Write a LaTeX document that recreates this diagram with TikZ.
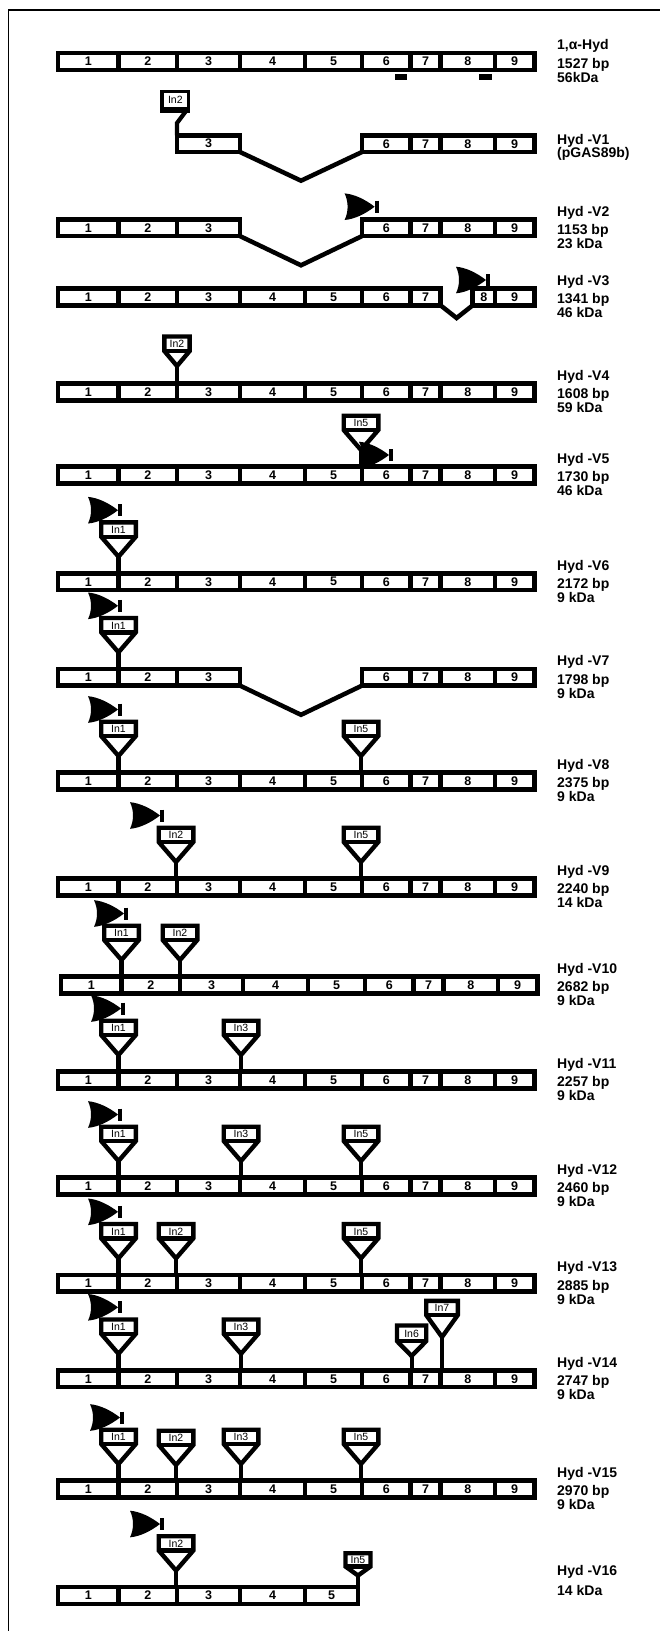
\documentclass[tikz,border=0pt]{standalone}
\usepackage{fontspec}
\setmainfont{Liberation Sans}
\usetikzlibrary{calc}

\definecolor{ink}{HTML}{000000}

% exon cells: left/right/number (x in px of the reference)
\def\exall{58.2/118.5/1, 118.5/177/2, 177/240/3, 240/305/4, 305/362/5, 362/410.5/6, 410.5/440.5/7, 440.5/495/8, 495/534.4/9}
\def\exhead{58.2/118.5/1, 118.5/177/2, 177/240/3}
\def\extail{362/410.5/6, 410.5/440.5/7, 440.5/495/8, 495/534.4/9}
\def\exthree{177/240/3}
\def\exseven{58.2/118.5/1, 118.5/177/2, 177/240/3, 240/305/4, 305/362/5, 362/410.5/6, 410.5/440.5/7}
\def\exlast{472.7/495/8, 495/534.4/9}
\def\exfive{58.2/118.5/1, 118.5/177/2, 177/240/3, 240/305/4, 305/358/5}

\tikzset{
  exon/.style={draw=ink, line width=4.5pt, fill=white},
  splice/.style={draw=ink, line width=4.5pt},
  stem/.style={draw=ink, line width=4.2pt},
  insline/.style={draw=ink, line width=4.4pt, fill=white},
  sepline/.style={draw=ink, line width=4.4pt},
  frame/.style={draw=ink, line width=1.5pt},
  exnum/.style={font=\fontsize{12.5}{13}\selectfont\bfseries, text=ink, inner sep=0pt},
  inlbl/.style={font=\fontsize{10.5}{11}\selectfont, text=ink, inner sep=0pt},
  lbl/.style={font=\fontsize{14}{14}\selectfont\bfseries, text=ink, inner sep=0pt,
              align=left, anchor=north west},
}

% one run of exons on a bar
\newcommand{\exons}[3]{%
  \foreach \xa/\xb/\num in #3 {
    \draw[exon] (\xa,#2-8.3) rectangle (\xb,#2+8.3);
    \node[exnum] (#1-\num) at ({(\xa+\xb)/2},#2) {\num};
  }}

% inserted intron: name, x, half width, top, separator, apex, bar top, label
\newcommand{\inspent}[8]{%
  \draw[insline] (#2-#3,#4) -- (#2+#3,#4) -- (#2+#3,#5) -- (#2,#6) -- (#2-#3,#5) -- cycle;
  \draw[sepline] (#2-#3,#5) -- (#2+#3,#5);
  \draw[stem] (#2,#6) -- (#2,#7);
  \node[inlbl] (#1) at (#2,{(#4+#5)/2+0.3}) {#8};}
\newcommand{\insbox}[4]{\inspent{#1}{#2}{17.3}{#3-59.3}{#3-45}{#3-25}{#3-8.3}{#4}}

% start site: name, tip x, tip y
\newcommand{\promoter}[3]{%
  \coordinate (#1) at (#2,#3);
  \fill[ink] (#2,#3) .. controls (#2-9,#3-7) and (#2-20,#3-12.5) .. (#2-30,#3-13.3)
    .. controls (#2-26,#3-5) and (#2-26,#3+5) .. (#2-30,#3+13.3)
    .. controls (#2-20,#3+12.5) and (#2-9,#3+7) .. cycle;
  \draw[stem] (#2+2,#3-6) -- (#2+2,#3+6);}

\newcommand{\varlbl}[5]{\node[lbl] (#1) at (557,#2-22) {#3\\[4.5pt]#4\\#5};}

\begin{document}
\begin{tikzpicture}[x=1pt, y=-1pt]
  \useasboundingbox (0,0) rectangle (660,1631);
  \fill[white] (0,0) rectangle (660,1631);
  \draw[frame] (8.5,1640) -- (8.5,10) -- (670,10);

  % 1,alpha-Hyd
  \exons{hyd}{61.5}{\exall}
  \fill[ink] (394.8,74.3) rectangle (407.4,80);
  \fill[ink] (479,74.3) rectangle (492.4,80);
  \varlbl{lhyd}{61.5}{1,α-Hyd}{1527 bp}{56kDa}

  % V1
  \exons{v1}{143.7}{\exthree}
  \exons{v1}{143.7}{\extail}
  \draw[splice] (240,152) -- (301,180.7) -- (362,152);
  \fill[ink] (160,90) rectangle (190,112.5);
  \node[inlbl, fill=white, minimum width=22.7pt, minimum height=13.4pt] (v1in2) at (175.3,100) {In2};
  \coordinate (v1foot) at (177,135.4);
  \draw[stem] (186,111) -- (177,123) -- (v1foot);
  \node[lbl] (lv1) at (557,134.5) {Hyd -V1\\[-1pt](pGAS89b)};

  % V2
  \exons{v2}{227.8}{\exhead}
  \exons{v2}{227.8}{\extail}
  \draw[splice] (240,236.1) -- (301,265.3) -- (362,236.1);
  \promoter{pv2}{374.6}{206.7}
  \varlbl{lv2}{227.8}{Hyd -V2}{1153 bp}{23 kDa}

  % V3
  \exons{v3}{297}{\exseven}
  \exons{v3}{297}{\exlast}
  \draw[splice] (440.5,305.3) -- (456.6,318) -- (472.7,305.3);
  \promoter{pv3}{486}{280}
  \varlbl{lv3}{297}{Hyd -V3}{1341 bp}{46 kDa}

  % V4
  \exons{v4}{392}{\exall}
  \inspent{v4in2}{177}{12.6}{336.5}{351.1}{366}{383.7}{In2}
  \varlbl{lv4}{392}{Hyd -V4}{1608 bp}{59 kDa}

  % V5
  \exons{v5}{475}{\exall}
  \insbox{v5in5}{361}{475}{In5}
  \promoter{pv5}{389}{455}
  \varlbl{lv5}{475}{Hyd -V5}{1730 bp}{46 kDa}

  % V6
  \exons{v6}{581.7}{\exall}
  \insbox{v6in1}{118.5}{581.7}{In1}
  \promoter{pv6}{118}{510.2}
  \varlbl{lv6}{581.7}{Hyd -V6}{2172 bp}{9 kDa}

  % V7
  \exons{v7}{677.3}{\exhead}
  \exons{v7}{677.3}{\extail}
  \draw[splice] (240,685.6) -- (301,714.8) -- (362,685.6);
  \insbox{v7in1}{118.5}{677.3}{In1}
  \promoter{pv7}{118}{605.8}
  \varlbl{lv7}{677.3}{Hyd -V7}{1798 bp}{9 kDa}

  % V8
  \exons{v8}{781}{\exall}
  \insbox{v8in1}{118.5}{781}{In1}
  \insbox{v8in5}{361}{781}{In5}
  \promoter{pv8}{118}{709.5}
  \varlbl{lv8}{781}{Hyd -V8}{2375 bp}{9 kDa}

  % V9
  \exons{v9}{887}{\exall}
  \insbox{v9in2}{176}{887}{In2}
  \insbox{v9in5}{361}{887}{In5}
  \promoter{pv9}{160}{815.5}
  \varlbl{lv9}{887}{Hyd -V9}{2240 bp}{14 kDa}

  % V10
  \begin{scope}[xshift=3pt]
    \exons{v10}{985}{\exall}
    \insbox{v10in1}{118.5}{985}{In1}
    \insbox{v10in2}{177}{985}{In2}
    \promoter{pv10}{121}{913.5}
  \end{scope}
  \varlbl{lv10}{985}{Hyd -V10}{2682 bp}{9 kDa}

  % V11
  \exons{v11}{1080}{\exall}
  \insbox{v11in1}{118.5}{1080}{In1}
  \insbox{v11in3}{241}{1080}{In3}
  \promoter{pv11}{121}{1008.5}
  \varlbl{lv11}{1080}{Hyd -V11}{2257 bp}{9 kDa}

  % V12
  \exons{v12}{1186}{\exall}
  \insbox{v12in1}{118.5}{1186}{In1}
  \insbox{v12in3}{241}{1186}{In3}
  \insbox{v12in5}{361}{1186}{In5}
  \promoter{pv12}{118}{1114.5}
  \varlbl{lv12}{1186}{Hyd -V12}{2460 bp}{9 kDa}

  % V13
  \exons{v13}{1283.3}{\exall}
  \insbox{v13in1}{118.5}{1283.3}{In1}
  \insbox{v13in2}{176}{1283.3}{In2}
  \insbox{v13in5}{361}{1283.3}{In5}
  \promoter{pv13}{118}{1211.8}
  \varlbl{lv13}{1283.3}{Hyd -V13}{2885 bp}{9 kDa}

  % V14
  \exons{v14}{1378.8}{\exall}
  \insbox{v14in1}{118.5}{1378.8}{In1}
  \insbox{v14in3}{241}{1378.8}{In3}
  \inspent{v14in6}{411.6}{14.6}{1325.5}{1341.1}{1356}{1370.5}{In6}
  \inspent{v14in7}{442}{15.8}{1300.8}{1315}{1337}{1370.5}{In7}
  \promoter{pv14}{118}{1307.3}
  \varlbl{lv14}{1378.8}{Hyd -V14}{2747 bp}{9 kDa}

  % V15
  \exons{v15}{1489}{\exall}
  \insbox{v15in1}{118.5}{1489}{In1}
  \insbox{v15in2}{176}{1490}{In2}
  \insbox{v15in3}{241}{1489}{In3}
  \insbox{v15in5}{361}{1489}{In5}
  \promoter{pv15}{120}{1417.5}
  \varlbl{lv15}{1489}{Hyd -V15}{2970 bp}{9 kDa}

  % V16
  \exons{v16}{1595.5}{\exfive}
  \insbox{v16in2}{176}{1595.5}{In2}
  \inspent{v16in5}{358}{12.5}{1553.2}{1566.5}{1575.5}{1587.2}{In5}
  \promoter{pv16}{160}{1524}
  \node[lbl] (lv16) at (557,1565) {Hyd -V16\\[6pt]14 kDa};
\end{tikzpicture}
\end{document}
